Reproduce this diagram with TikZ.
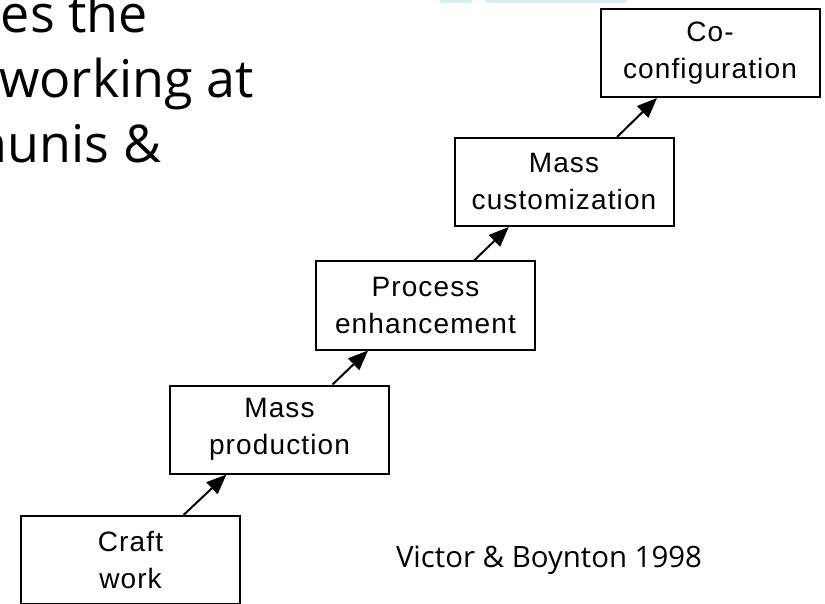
\documentclass[tikz,border=0pt]{standalone}
\usepackage{fontspec}
\usetikzlibrary{arrows.meta,calc}
\newfontfamily\boxfont[LetterSpace=4]{Liberation Sans}
\newfontfamily\slidefont{Open Sans}
\definecolor{barblue}{RGB}{214,240,246}

\tikzset{every picture/.style={line width=2pt}}
\tikzset{
  stagebox/.style={draw, rectangle, minimum width=219, minimum height=88, inner sep=0, align=center,
    font=\boxfont\fontsize{28}{37}\selectfont},
  stagearrow/.style={-{Triangle[length=20,width=16]}, line width=2pt},
  slidetext/.style={anchor=base west, inner sep=0, font=\slidefont\fontsize{52}{62}\selectfont}
}

\begin{document}
\begin{tikzpicture}[x=1pt,y=1pt,yscale=-1,xscale=1]
\useasboundingbox (0,0) rectangle (825,604);

%Shape: Rectangle [bar]
\fill [barblue] (440,0) rectangle (472,3);
\fill [barblue] (485,0) rectangle (627,3);

% Text Node
\node [slidetext] (line1) at (0,33) {es the};
% Text Node
\node [slidetext] (line2) at (-2,98) {working at};
% Text Node
\node [slidetext] (line3) at (-25,163) {nunis \&};

%Shape: Rectangle [stages]
\node [stagebox] (craft) at (130.5,560) {Craft\\work};
\node [stagebox] (massprod) at (279.5,429.5) {Mass\\production};
\node [stagebox] (process) at (425.5,305.5) {Process\\enhancement};
\node [stagebox] (masscust) at (564,182) {Mass\\customization};
\node [stagebox] (coconf) at (710,53) {Co-\\configuration};

%Straight Lines [arrows]
\draw [stagearrow] ($(craft.north west)!0.74!(craft.north east)$) -- ($(massprod.south west)!0.26!(massprod.south east)$);
\draw [stagearrow] ($(massprod.north west)!0.74!(massprod.north east)$) -- ($(process.south west)!0.24!(process.south east)$);
\draw [stagearrow] ($(process.north west)!0.72!(process.north east)$) -- ($(masscust.south west)!0.25!(masscust.south east)$);
\draw [stagearrow] ($(masscust.north west)!0.74!(masscust.north east)$) -- ($(coconf.south west)!0.26!(coconf.south east)$);

% Text Node
\node [anchor=base west, inner sep=0, font=\slidefont\fontsize{29.4}{35}\selectfont] (source) at (395,567) {Victor \& Boynton 1998};

\end{tikzpicture}
\end{document}
